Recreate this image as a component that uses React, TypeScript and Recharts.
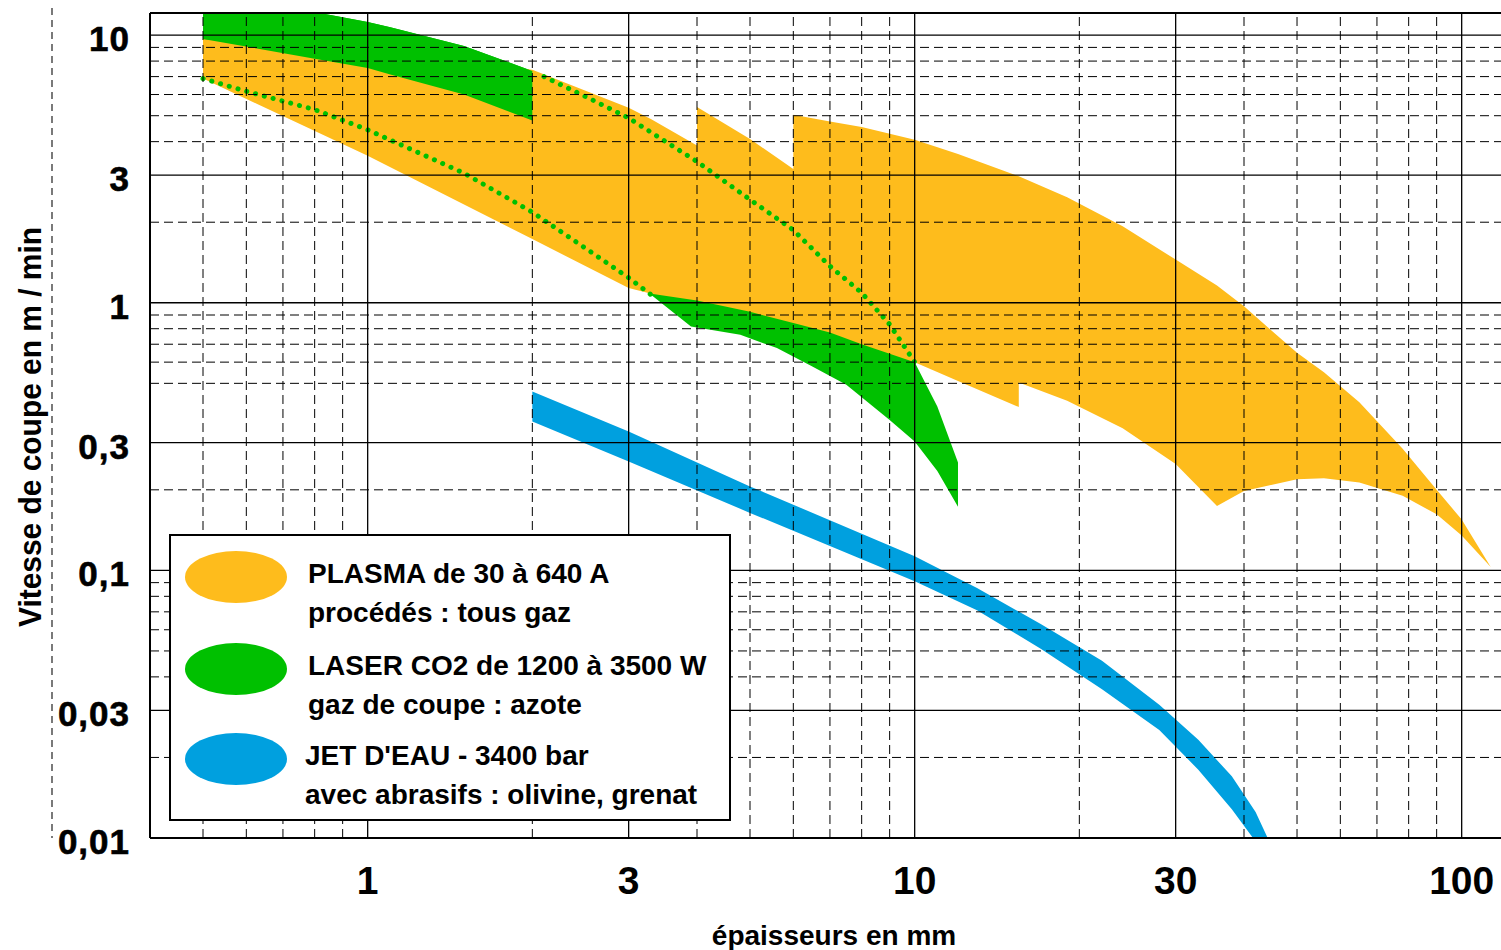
import {
  ComposedChart,
  Area,
  Line,
  XAxis,
  YAxis,
  ReferenceLine,
  Legend,
  Label,
} from 'recharts';

const ORANGE = '#FEBC1C';
const GREEN = '#00C000';
const BLUE = '#00A0DF';
const FONT = "'Liberation Sans', Arial, Helvetica, sans-serif";

// épaisseur (mm) -> vitesse (m/min), bandes
const plasmaX = [0.5, 1, 2, 3, 3.3, 4, 4, 5, 6, 6, 7, 8, 10, 12, 15.5, 15.5, 19, 24, 30, 35.7, 40, 50, 56, 65, 78, 90, 100, 113];
const plasmaHigh = [9.68, 8.5, 7.43, 5.35, 4.85, 3.87, 5.39, 4.09, 3.16, 5.04, 4.76, 4.54, 4.07, 3.6, 2.97, 2.97, 2.48, 1.93, 1.45, 1.16, 0.97, 0.65, 0.55, 0.425, 0.285, 0.2, 0.155, 0.103];
const plasmaLow = [6.88, 3.54, 1.73, 1.135, 1.08, 1.02, 1.02, 0.925, 0.84, 0.84, 0.775, 0.7, 0.6, 0.51, 0.408, 0.504, 0.43, 0.34, 0.25, 0.174, 0.198, 0.219, 0.221, 0.213, 0.19, 0.162, 0.135, 0.103];

const laserX = [0.5, 0.6, 0.8, 1, 1.1, 1.5, 2, 2.5, 3, 3.3, 3.9, 4.8, 5.6, 6.5, 7.5, 9, 10, 11, 12];
const laserHigh = [14, 13.5, 12.2, 11.2, 10.7, 9.1, 7.35, 5.9, 4.9, 4.4, 3.5, 2.6, 2.1, 1.6, 1.22, 0.83, 0.6, 0.41, 0.253];
const laserLow = [6.88, 6.17, 5.27, 4.43, 4.1, 3.05, 2.18, 1.6, 1.24, 1.07, 0.816, 0.759, 0.677, 0.578, 0.494, 0.365, 0.303, 0.235, 0.173];

// partie du laser visible au-dessus du plasma (tôles fines)
const laserTopX = [0.5, 0.8, 1, 1.1, 1.5, 2];
const laserTopHigh = [14, 12.2, 11.2, 10.7, 9.1, 7.35];
const laserTopLow = [9.68, 8.17, 7.54, 7.13, 6.0, 4.8];

// limites du laser cachées sous le plasma (pointillés)
const dotLowX = [0.5, 0.6, 0.8, 1, 1.5, 2, 2.5, 3, 3.3];
const dotLowV = [6.88, 6.17, 5.27, 4.43, 3.05, 2.18, 1.6, 1.24, 1.07];
const dotHighX = [2.1, 2.5, 3, 4, 5, 6, 7, 8, 9, 10];
const dotHighV = [7.0, 5.9, 4.9, 3.37, 2.43, 1.87, 1.37, 1.09, 0.83, 0.6];

const waterX = [2, 3, 5, 10, 13, 17, 22, 28, 33, 38, 42, 44.5];
const waterHigh = [0.466, 0.33, 0.206, 0.113, 0.086, 0.063, 0.046, 0.0315, 0.0233, 0.017, 0.0125, 0.0097];
const waterLow = [0.36, 0.255, 0.164, 0.091, 0.071, 0.051, 0.036, 0.0253, 0.018, 0.0128, 0.0097, 0.008];

const xTicks = [1, 3, 10, 30, 100];
const xMinor = [0.5, 0.6, 0.7, 0.8, 0.9, 2, 4, 5, 6, 7, 8, 9, 20, 40, 50, 60, 70, 80, 90];
const yTicks = [0.01, 0.03, 0.1, 0.3, 1, 3, 10];
const yMajor = [0.03, 0.1, 0.3, 1, 3, 10];
const yMinor = [0.02, 0.04, 0.05, 0.06, 0.07, 0.08, 0.09, 0.2, 0.5, 0.6, 0.7, 0.8, 0.9, 2, 4, 5, 6, 7, 8, 9];

const legendItems = [
  { color: ORANGE, line1: 'PLASMA de 30 à 640 A', line2: 'procédés : tous gaz' },
  { color: GREEN, line1: 'LASER CO2 de 1200 à 3500 W', line2: 'gaz de coupe : azote' },
  { color: BLUE, line1: "JET D'EAU - 3400 bar", line2: 'avec abrasifs : olivine, grenat' },
];

const band = (xs: number[], lo: number[], hi: number[]) =>
  xs.map((x, i) => ({ x, range: [lo[i], hi[i]] }));
const points = (xs: number[], vs: number[]) => xs.map((x, i) => ({ x, v: vs[i] }));

const plasmaData = band(plasmaX, plasmaLow, plasmaHigh);
const laserData = band(laserX, laserLow, laserHigh);
const laserTopData = band(laserTopX, laserTopLow, laserTopHigh);
const waterData = band(waterX, waterLow, waterHigh);

const fmt = (v: number) => String(v).replace('.', ',');

function XTick({ x, y, payload }: any) {
  return (
    <text x={x} y={y + 56} textAnchor="middle" fontFamily={FONT} fontWeight="bold" fontSize={39} fill="#000">
      {fmt(payload.value)}
    </text>
  );
}

function YTick({ x, y, payload }: any) {
  return (
    <text x={x - 20} y={y + 16} textAnchor="end" fontFamily={FONT} fontWeight="bold" fontSize={35} letterSpacing={1} stroke="#000" strokeWidth={0.6} fill="#000">
      {fmt(payload.value)}
    </text>
  );
}

function LegendBox() {
  const rows = [43, 135, 225];
  return (
    <svg width={562} height={287} style={{ display: 'block' }}>
      <rect x={1} y={1} width={560} height={285} fill="#fff" stroke="#000" strokeWidth={2} />
      {legendItems.map((it, i) => (
        <g key={it.line1}>
          <ellipse cx={67} cy={rows[i]} rx={51} ry={26} fill={it.color} />
          <text x={i === 2 ? 136 : 139} y={rows[i] + 6} fontFamily={FONT} fontWeight="bold" fontSize={28} fill="#000">
            {it.line1}
          </text>
          <text x={i === 2 ? 136 : 139} y={rows[i] + 45} fontFamily={FONT} fontWeight="bold" fontSize={28} fill="#000">
            {it.line2}
          </text>
        </g>
      ))}
    </svg>
  );
}

export default function App() {
  return (
    <div style={{ position: 'absolute', left: 0, top: 0, background: '#fff' }}>
      <ComposedChart width={1501} height={950} margin={{ top: 13, right: 0, bottom: 0, left: 0 }}>
        <XAxis
          dataKey="x"
          type="number"
          scale="log"
          domain={[0.4, 118]}
          allowDataOverflow
          ticks={xTicks}
          tick={<XTick />}
          tickLine={false}
          tickSize={0}
          tickMargin={0}
          height={112}
          axisLine={{ stroke: '#000', strokeWidth: 2 }}
        >
          <Label
            content={() => (
              <text x={834} y={945} textAnchor="middle" fontFamily={FONT} fontWeight="bold" fontSize={28} fill="#000">
                épaisseurs en mm
              </text>
            )}
          />
        </XAxis>
        <YAxis
          type="number"
          scale="log"
          domain={[0.01, 12.1]}
          allowDataOverflow
          ticks={yTicks}
          tick={<YTick />}
          tickLine={false}
          tickSize={0}
          tickMargin={0}
          width={150}
          axisLine={{ stroke: '#000', strokeWidth: 2 }}
        >
          <Label
            content={() => (
              <g>
                <line x1={52} y1={8} x2={52} y2={838} stroke="#222" strokeWidth={1.2} strokeDasharray="7 5" />
                <text
                  transform="translate(41,427) rotate(-90)"
                  textAnchor="middle"
                  fontFamily={FONT}
                  fontWeight="bold"
                  fontSize={32}
                  textLength={400}
                  lengthAdjust="spacingAndGlyphs"
                  fill="#000"
                >
                  Vitesse de coupe en m / min
                </text>
              </g>
            )}
          />
        </YAxis>

        <Area data={laserData} dataKey="range" type="linear" stroke="none" fill={GREEN} fillOpacity={1} isAnimationActive={false} />
        <Area data={plasmaData} dataKey="range" type="linear" stroke="none" fill={ORANGE} fillOpacity={1} isAnimationActive={false} />
        <Area data={laserTopData} dataKey="range" type="linear" stroke="none" fill={GREEN} fillOpacity={1} isAnimationActive={false} />
        <Area data={waterData} dataKey="range" type="linear" stroke="none" fill={BLUE} fillOpacity={1} isAnimationActive={false} />
        <Line data={points(dotLowX, dotLowV)} dataKey="v" type="linear" stroke={GREEN} strokeWidth={5} strokeLinecap="round" strokeDasharray="0.1 9" dot={false} isAnimationActive={false} />
        <Line data={points(dotHighX, dotHighV)} dataKey="v" type="linear" stroke={GREEN} strokeWidth={5} strokeLinecap="round" strokeDasharray="0.1 9" dot={false} isAnimationActive={false} />

        {xMinor.map((v) => (
          <ReferenceLine key={'xm' + v} x={v} stroke="#000" strokeWidth={1} strokeDasharray="9 5" />
        ))}
        {yMinor.map((v) => (
          <ReferenceLine key={'ym' + v} y={v} stroke="#000" strokeWidth={1} strokeDasharray="9 5" />
        ))}
        {xTicks.map((v) => (
          <ReferenceLine key={'xM' + v} x={v} stroke="#000" strokeWidth={1.3} />
        ))}
        {yMajor.map((v) => (
          <ReferenceLine key={'yM' + v} y={v} stroke="#000" strokeWidth={1.3} />
        ))}
        <ReferenceLine y={12.1} stroke="#000" strokeWidth={2} />

        <Legend
          layout="horizontal"
          verticalAlign="middle"
          align="center"
          content={() => <LegendBox />}
          wrapperStyle={{ left: 169, top: 534, width: 562, height: 287 }}
        />
      </ComposedChart>
    </div>
  );
}
